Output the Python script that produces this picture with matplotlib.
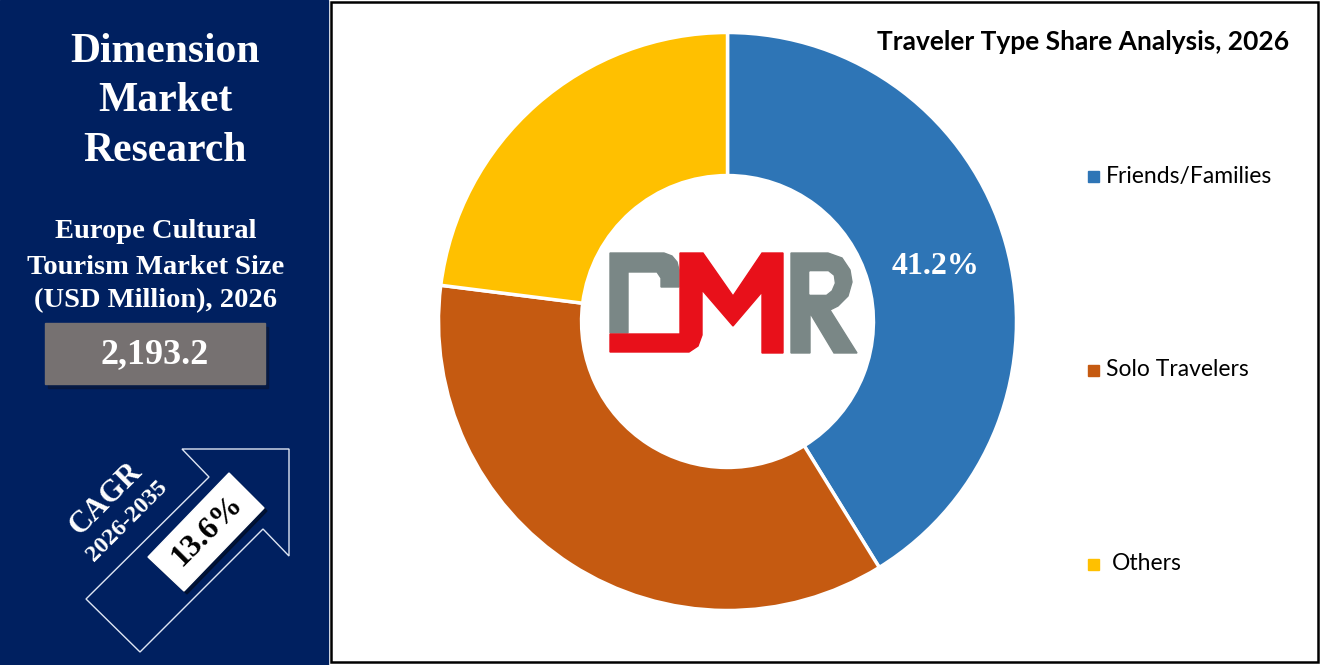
import matplotlib
matplotlib.use("Agg")
import matplotlib.pyplot as plt
from matplotlib.patches import Rectangle, Polygon

# data
types = ["Friends/Families", "Solo Travelers", "Others"]
shares = [41.2, 35.8, 23.0]
colors = ["#2E75B6", "#C55A11", "#FFC000"]
label_shown = "41.2%"

title = "Traveler Type Share Analysis, 2026"
market_title = "Europe Cultural\nTourism Market Size\n(USD Million), 2026"
market_size = "2,193.2"
cagr_years = "2026-2035"
cagr_value = "13.6%"

W, H = 1322, 665
fig = plt.figure(figsize=(W / 100, H / 100), dpi=100)
fig.patch.set_facecolor("white")

# donut: center (727.5, 321.5) px, radius 289 px
cx, cy, r = 727.5, 321.5, 289
ax = fig.add_axes([(cx - r) / W, (H - cy - r) / H, 2 * r / W, 2 * r / H])
wedges, _ = ax.pie(shares, colors=colors, startangle=90, counterclock=False,
                   radius=1, wedgeprops=dict(width=0.495, edgecolor="white", linewidth=2.5))
ax.set_xlim(-1, 1)
ax.set_ylim(-1, 1)
ax.set_aspect("equal")
ax.axis("off")
ax.text(0.72, 0.19, label_shown, color="white", fontsize=23, fontweight="bold",
        family="Liberation Serif", ha="center", va="center")

# overlay in pixel coords
ov = fig.add_axes([0, 0, 1, 1], zorder=5)
ov.set_xlim(0, W)
ov.set_ylim(H, 0)
ov.axis("off")
ov.patch.set_alpha(0)

# left panel
ov.add_patch(Rectangle((0, 0), 328, H, color="#002060", zorder=1))
# right frame
ov.add_patch(Rectangle((331, 2), 987, 660, fill=False, edgecolor="black", linewidth=1.8, zorder=2))

serif = "Liberation Serif"
for txt, y in zip(["Dimension", "Market", "Research"], [52, 101, 151]):
    ov.text(165, y, txt, color="white", fontsize=30, fontweight="bold", family=serif,
            ha="center", va="center", zorder=3)
for txt, y in zip(market_title.split("\n"), [231, 267, 301]):
    ov.text(156, y, txt, color="white", fontsize=20.5, fontweight="bold", family=serif,
            ha="center", va="center", zorder=3)
ov.add_patch(Rectangle((48, 327), 220, 61, color="#0b1633", alpha=0.6, zorder=2))
ov.add_patch(Rectangle((45, 323), 220, 61, color="#767171", zorder=3))
ov.text(155, 355, market_size, color="white", fontsize=26, fontweight="bold", family=serif,
        ha="center", va="center", zorder=4)

# CAGR arrow
arrow = [(140, 652), (86, 599), (209, 477), (182, 449), (289, 449), (289, 556), (263, 529)]
ov.add_patch(Polygon(arrow, closed=True, fill=False, edgecolor="#dfe6f3", linewidth=1.0, zorder=3))
box = [(148, 557), (229, 473), (264, 508), (184, 591)]
ov.add_patch(Polygon([(x + 3, y + 3) for x, y in box], closed=True, color="#000814", alpha=0.5, zorder=3))
ov.add_patch(Polygon(box, closed=True, color="white", zorder=4))
ov.text(207, 531, cagr_value, color="black", fontsize=23, fontweight="bold", family=serif,
        ha="center", va="center", rotation=45, zorder=5)
ov.text(106, 499, "CAGR", color="white", fontsize=22, fontweight="bold", family=serif,
        ha="center", va="center", rotation=45, zorder=5)
ov.text(127, 521, cagr_years, color="white", fontsize=17.5, fontweight="bold", family=serif,
        ha="center", va="center", rotation=45, zorder=5)

# title
ov.text(1083, 42, title, color="black", fontsize=19, fontweight="bold", family="Lato",
        ha="center", va="center", zorder=3)

# legend
for name, col, y, tx in zip(types, colors, [176, 370, 564], [1106, 1106, 1112]):
    ov.add_patch(Rectangle((1088, y - 5.5), 11, 11, color=col, zorder=3))
    ov.text(tx, y, name, color="black", fontsize=16.5, family="Lato",
            ha="left", va="center", zorder=3)

# DMR logo
gray = "#7A8786"
red = "#E8101A"
d_shape = [(610, 253), (664, 253), (672, 256), (677, 262), (679, 270), (679, 287),
           (661, 287), (661, 278), (657, 272), (628, 272), (628, 333), (610, 333)]
ov.add_patch(Polygon(d_shape, closed=True, color=gray, zorder=4))
m_shape = [(680, 253), (703, 253), (733, 296), (762, 253), (783, 253), (783, 353),
           (762, 353), (762, 292), (733, 326), (702, 290), (702, 335), (698, 346),
           (689, 352), (610, 352), (610, 334), (680, 334)]
ov.add_patch(Polygon(m_shape, closed=True, color=red, zorder=4))
r_shape = [(791, 253), (828, 253), (842, 258), (850, 270), (852, 282), (848, 296),
           (838, 306), (830, 310), (857, 353), (834, 353), (810, 313), (810, 353), (791, 353)]
ov.add_patch(Polygon(r_shape, closed=True, color=gray, zorder=4))
r_hole = [(810, 272), (828, 272), (833, 276), (834, 283), (831, 290), (826, 294), (810, 294)]
ov.add_patch(Polygon(r_hole, closed=True, color="white", zorder=5))

fig.savefig("out.png", dpi=100)
